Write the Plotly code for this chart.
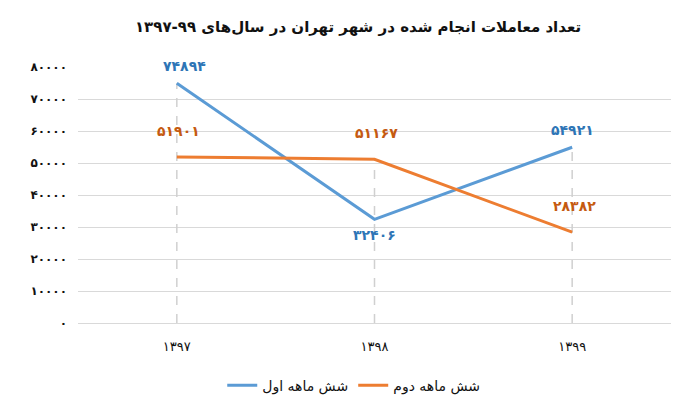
import plotly.graph_objects as go

years = ["۱۳۹۷", "۱۳۹۸", "۱۳۹۹"]
first_half = [74894, 32406, 54921]
second_half = [51901, 51167, 28382]
y_ticks = [0, 10000, 20000, 30000, 40000, 50000, 60000, 70000, 80000]
title_text = "تعداد معاملات انجام شده در شهر تهران در سال‌های ۹۹-۱۳۹۷"
name_first = "شش ماهه اول"
name_second = "شش ماهه دوم"

FA = str.maketrans("0123456789", "۰۱۲۳۴۵۶۷۸۹")
def fa(n):
    return str(n).translate(FA)

BLUE = "#5b9bd5"
ORANGE = "#ed7d31"
FONT = "DejaVu Sans"

fig = go.Figure()

# dashed drop lines at each category, up to the higher point
dx, dy = [], []
for c, a, b in zip(years, first_half, second_half):
    dx += [c, c, None]
    dy += [0, max(a, b), None]
fig.add_trace(go.Scatter(x=dx, y=dy, mode="lines", showlegend=False, hoverinfo="skip",
                         line=dict(color="#d0d0d0", width=1.5, dash="dash")))

fig.add_trace(go.Scatter(x=years, y=first_half, mode="lines", name=name_first,
                         line=dict(color=BLUE, width=3)))
fig.add_trace(go.Scatter(x=years, y=second_half, mode="lines", name=name_second,
                         line=dict(color=ORANGE, width=3)))

ann = []
for i, (c, v) in enumerate(zip(years, first_half)):
    below = v < second_half[i]
    ann.append(dict(x=c, y=v, text=fa(v), showarrow=False, xshift=8 if i == 0 else 0,
                    yshift=-16 if below else 17,
                    font=dict(family=FONT, size=14, color="#2e75b6", weight="bold")))
for i, (c, v) in enumerate(zip(years, second_half)):
    ann.append(dict(x=c, y=v, text=fa(v), showarrow=False, xshift=2,
                    yshift=26,
                    font=dict(family=FONT, size=14, color="#c55a11", weight="bold")))

fig.update_layout(
    width=700, height=420,
    paper_bgcolor="white", plot_bgcolor="white",
    margin=dict(l=70, r=37, t=59, b=105, autoexpand=False),
    title=dict(text=title_text, x=0.5, xanchor="center", y=0.955, yanchor="middle",
               font=dict(family=FONT, size=15, color="#111", weight="bold")),
    font=dict(family=FONT, color="#222"),
    annotations=ann,
    showlegend=True,
    legend=dict(orientation="h", x=0.465, xanchor="center", y=-0.245, yanchor="middle",
                font=dict(family=FONT, size=14, color="#111"), traceorder="normal"),
)
fig.update_xaxes(type="category", range=[-0.5, 2.5], showgrid=False, ticks="", showline=True,
                 linecolor="#d9d9d9", linewidth=1, automargin=False,
                 tickfont=dict(family=FONT, size=13, color="#111"), ticklabelstandoff=11)
fig.update_yaxes(range=[0, 80000], tickvals=y_ticks, ticktext=[fa(v) for v in y_ticks],
                 showgrid=True, gridcolor="#d9d9d9", gridwidth=1, zeroline=False,
                 automargin=False,
                 tickfont=dict(family=FONT, size=12, color="#111", weight="bold"),
                 ticklabelstandoff=10)

fig.write_html("out.html")
